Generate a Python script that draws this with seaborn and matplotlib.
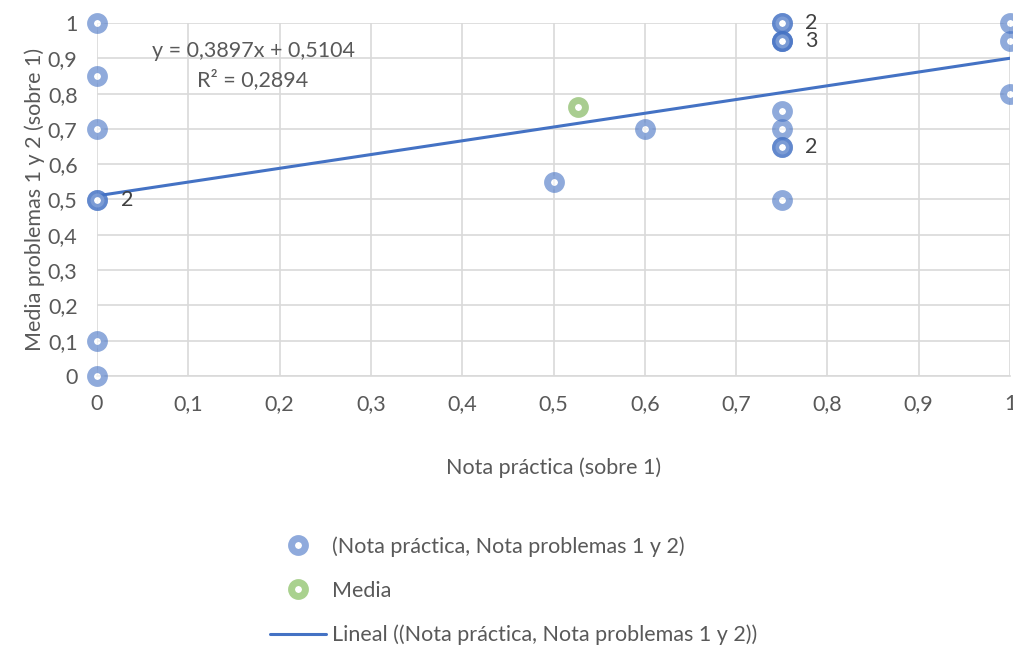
import numpy as np
import pandas as pd
import matplotlib
matplotlib.use("Agg")
import matplotlib.pyplot as plt
from matplotlib.lines import Line2D
from matplotlib.ticker import FuncFormatter, MultipleLocator
import seaborn as sns

# Notes per student (scale 0-1)
nota_practica = [0, 0, 0, 0, 0, 0, 0,
                 0.5, 0.6,
                 0.75, 0.75, 0.75, 0.75, 0.75, 0.75, 0.75, 0.75, 0.75, 0.75,
                 1, 1, 1]
nota_problemas = [1, 0.85, 0.7, 0.5, 0.5, 0.1, 0,
                  0.55, 0.7,
                  1, 1, 0.95, 0.95, 0.95, 0.75, 0.7, 0.65, 0.65, 0.5,
                  1, 0.95, 0.8]
media_x = [0.527]
media_y = [0.763]
ecuacion = "y = 0,3897x + 0,5104"
r2_texto = "R² = 0,2894"

serie_label = "(Nota práctica, Nota problemas 1 y 2)"
media_label = "Media"
tendencia_label = "Lineal ((Nota práctica, Nota problemas 1 y 2))"

df = pd.DataFrame({"x": nota_practica, "y": nota_problemas})
df_media = pd.DataFrame({"x": media_x, "y": media_y})

sns.set_theme(style="white")
plt.rcParams["font.family"] = ["Lato", "DejaVu Sans"]

BLUE = "#4472C4"
GREEN = "#70AD47"
TEXT = "#595959"
GRID = "#D9D9D9"
FS = 15.5

fig = plt.figure(figsize=(10.13, 6.47), dpi=100)
ax = fig.add_axes([97 / 1013, 1 - 376 / 647, 913 / 1013, 353 / 647])

marker_kw = dict(s=100, linewidth=5, facecolor="white", alpha=0.6, clip_on=False, zorder=4)

# Linear trend of the data (ordinary least squares)
sns.regplot(data=df, x="x", y="y", ax=ax, scatter=False, ci=None,
            line_kws=dict(color=BLUE, linewidth=2.2, zorder=3))

sns.scatterplot(data=df, x="x", y="y", ax=ax, edgecolor=BLUE, **marker_kw)
sns.scatterplot(data=df_media, x="x", y="y", ax=ax, edgecolor=GREEN, **marker_kw)

# Labels with the number of coincident points
counts = df.groupby(["x", "y"]).size().reset_index(name="n")
for _, row in counts[counts["n"] > 1].iterrows():
    ax.annotate(str(int(row["n"])), (row["x"], row["y"]), xytext=(17, 0),
                textcoords="offset points", ha="left", va="center",
                fontsize=FS, color="#404040", zorder=5, annotation_clip=False)

ax.text(0.171, 0.92, ecuacion, ha="center", va="center", fontsize=FS, color=TEXT)
ax.text(0.171, 0.839, r2_texto, ha="center", va="center", fontsize=FS, color=TEXT)

ax.set_xlim(0, 1)
ax.set_ylim(0, 1)
ax.xaxis.set_major_locator(MultipleLocator(0.1))
ax.yaxis.set_major_locator(MultipleLocator(0.1))
fmt = FuncFormatter(lambda v, _: ("%g" % round(v, 1)).replace(".", ","))
ax.xaxis.set_major_formatter(fmt)
ax.yaxis.set_major_formatter(fmt)
ax.tick_params(axis="both", length=0, labelsize=FS, labelcolor=TEXT)
ax.tick_params(axis="x", pad=13)
ax.tick_params(axis="y", pad=14)
ax.grid(True, color=GRID, linewidth=1.2)
ax.set_axisbelow(True)
for side in ["top", "right", "left"]:
    ax.spines[side].set_visible(False)
ax.spines["bottom"].set_color(GRID)
ax.spines["bottom"].set_linewidth(1.2)

ax.set_xlabel("Nota práctica (sobre 1)", fontsize=FS, color=TEXT, labelpad=31)
ax.set_ylabel("Media problemas 1 y 2 (sobre 1)", fontsize=FS, color=TEXT, labelpad=2)

handles = [
    Line2D([], [], linestyle="none", marker="o", markersize=10, markeredgewidth=5,
           markerfacecolor="white", markeredgecolor=(0.561, 0.667, 0.863)),
    Line2D([], [], linestyle="none", marker="o", markersize=10, markeredgewidth=5,
           markerfacecolor="white", markeredgecolor=(0.663, 0.820, 0.557)),
    Line2D([], [], color=BLUE, linewidth=2.2),
]
fig.legend(handles, [serie_label, media_label, tendencia_label],
           loc="upper left", bbox_to_anchor=(270 / 1013, 1 - 536 / 647),
           frameon=False, fontsize=FS, labelcolor=TEXT, handlelength=2.6,
           handletextpad=0.3, labelspacing=1.12, borderpad=0, borderaxespad=0)

fig.savefig("out.png", dpi=100)
